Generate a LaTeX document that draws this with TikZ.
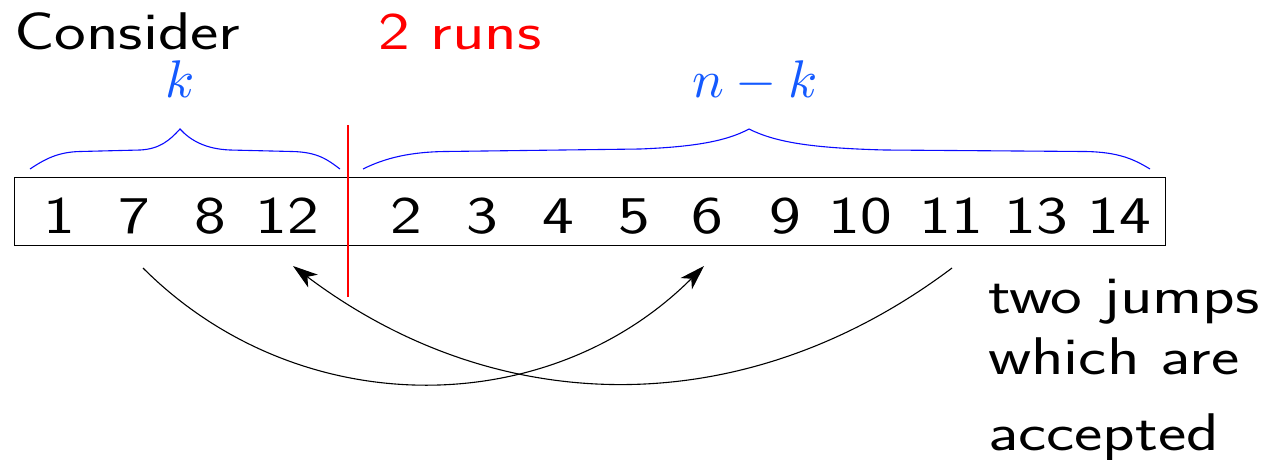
\documentclass[tikz,border=0pt]{standalone}
\usepackage{graphicx}
\usetikzlibrary{arrows.meta}
\definecolor{lblue}{RGB}{20,90,255}
\definecolor{bblue}{RGB}{10,10,255}
\newcommand{\BT}[1]{\scalebox{3.9}[3.067]{\fontsize{17.28}{20}\selectfont\sffamily #1}}
\newcommand{\BM}[1]{\scalebox{5.3}{\fontsize{10}{12}\selectfont $#1$}}
\tikzset{
  txt/.style={inner sep=0pt, outer sep=0pt},
  brc/.style={draw=bblue, line width=1.1pt},
  sep/.style={draw=red, line width=2pt},
  jump/.style={draw=black, line width=1.1pt, -{Stealth[length=25pt,width=16pt,inset=7pt]}},
}
\begin{document}
\begin{tikzpicture}[x=1pt,y=-1pt]
\useasboundingbox (0,0) rectangle (1277,459);
% titles
\node[txt, anchor=base west] (consider) at (14,49) {\BT{Consider}};
\node[txt, anchor=base west, text=red] (runs) at (378,49) {\BT{2 runs}};
\node[txt, anchor=base, text=lblue] (k) at (180,97) {\BM{k}};
\node[txt, anchor=base, text=lblue] (nk) at (755,97) {\BM{n-k}};
% box
\node[draw=black, line width=1.3pt, minimum width=1151pt, minimum height=68pt, inner sep=0pt, anchor=north west] (box) at (14,177) {};
% numbers
\foreach \v/\x [count=\i] in {1/59.5,7/134,8/210,12/287,2/406.5,3/482.5,4/558,5/634,6/707.5,9/785,10/860.5,11/951.5,13/1036,14/1119}
  \node[txt, anchor=base] (n\i) at (\x,233) {\BT{\v}};
% braces
\coordinate (bl1) at (30,169);
\coordinate (blt) at (180,129);
\coordinate (bl2) at (340,169);
\coordinate (br1) at (363,169);
\coordinate (brt) at (749,129);
\coordinate (br2) at (1150,169);
\draw[brc] (bl1) .. controls (45,159) and (58,152) .. (80,151.5) -- (140,150)
  .. controls (160,149) and (170,140) .. (blt)
  .. controls (190,140) and (205,149) .. (230,150) -- (292,151.5)
  .. controls (318,152) and (328,160) .. (bl2);
\draw[brc] (br1) .. controls (385,158) and (410,152) .. (445,151.5) -- (640,149)
  .. controls (690,147) and (725,142) .. (brt)
  .. controls (775,142) and (810,148) .. (885,150) -- (1085,151.5)
  .. controls (1120,152) and (1135,160) .. (br2);
% red separator
\coordinate (rtop) at (347.5,125);
\coordinate (rbot) at (347.5,297);
\draw[sep] (rtop) -- (rbot);
% jumps
\coordinate (a1s) at (143,268);
\coordinate (a1e) at (704,266);
\coordinate (a2s) at (952,268);
\coordinate (a2e) at (293,266);
\draw[jump] (a1s) .. controls (298.5,423.5) and (548.5,421.5) .. (a1e);
\draw[jump] (a2s) .. controls (746,423) and (499,421) .. (a2e);
% note
\node[txt, anchor=base west] (l1) at (988,313) {\BT{two jumps}};
\node[txt, anchor=base west] (l2) at (988,374) {\BT{which are}};
\node[txt, anchor=base west] (l3) at (988,450) {\BT{accepted}};
\end{tikzpicture}
\end{document}
